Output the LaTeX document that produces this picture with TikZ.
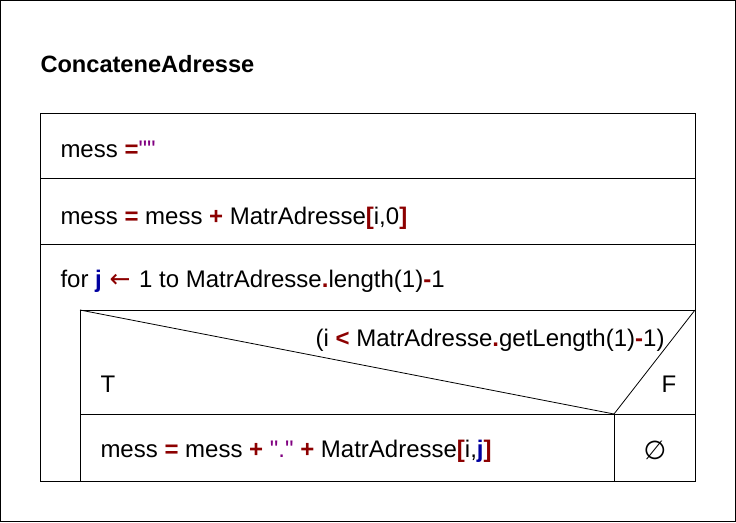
\documentclass[tikz,border=0pt]{standalone}
\usepackage{fontspec}
\setmainfont{Liberation Sans}[Ligatures=TeXOff]
\newfontfamily\symfont{DejaVu Sans}
\definecolor{opred}{RGB}{140,0,0}
\definecolor{varblue}{RGB}{0,0,160}
\definecolor{strpurple}{RGB}{128,0,128}
\newcommand{\opk}[1]{\textcolor{opred}{\textbf{#1}}}
\newcommand{\varj}[1]{\textcolor{varblue}{\textbf{#1}}}
\newcommand{\strlit}[1]{\textcolor{strpurple}{#1}}
\begin{document}
\begin{tikzpicture}[x=1pt,y=-1pt,line width=1pt,
  txt/.style={anchor=base west,inner sep=0pt,font=\fontsize{24}{28}\selectfont},
  ttl/.style={anchor=base west,inner sep=0pt,font=\fontsize{23.6}{28}\selectfont\bfseries},
  thin line/.style={line width=0.8pt}]
\useasboundingbox (0,0) rectangle (736,522);
\draw (0.5,0.5) rectangle (735.5,521.5);
\node[ttl] (title) at (40,72) {ConcateneAdresse};
% main structogram frame
\draw (40,113) rectangle (695,481);
\draw (40,178) -- (695,178);
\draw (40,244) -- (695,244);
\draw (80,310) rectangle (695,481);
\draw (80,414) -- (695,414);
\draw[thin line] (80,310) -- (614,414) -- (695,310);
\draw (614,414) -- (614,481);
% texts
\node[txt] (s1) at (60,157) {mess \opk{=}\strlit{""}};
\node[txt] (s2) at (60,224) {mess \opk{=} mess \opk{+} MatrAdresse\opk{[}i,0\opk{]}};
\node[txt] (loop) at (60,287) {for \varj{j} \hspace{1pt}\textcolor{opred}{\symfont\fontsize{25}{28}\selectfont ←}\hspace{2pt} 1 to MatrAdresse\opk{.}length(1)\opk{-}1};
\node[txt,anchor=base east] (cond) at (665,346) {(i \opk{<} MatrAdresse\opk{.}getLength(1)\opk{-}1)};
\node[txt] (t) at (100,392) {T};
\node[txt] (f) at (661,392) {F};
\node[txt] (body) at (100,457) {mess \opk{=} mess \opk{+} \strlit{"."} \opk{+} MatrAdresse\opk{[}i,\varj{j}\opk{]}};
\node[txt,anchor=base,font=\fontsize{26}{30}\selectfont\symfont] (empty) at (655,459) {∅};
\end{tikzpicture}
\end{document}
